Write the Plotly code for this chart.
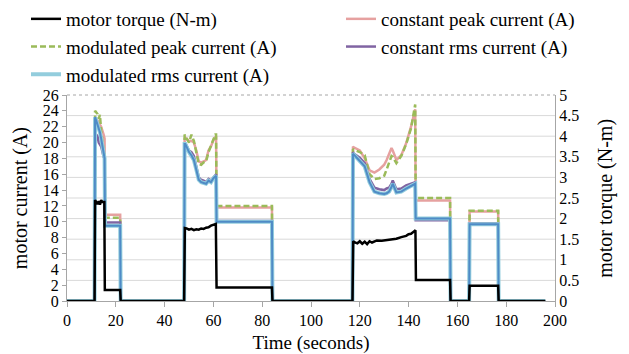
import plotly.graph_objects as go

# ---------------- data ----------------
# time base shared by the four current series (seconds)
t_cur = [0, 11.3, 11.5, 12.5, 13, 13.5, 14, 15, 15.4, 15.6, 21.8, 22,
         48, 48.2, 48.5, 50, 51, 52, 53, 54, 55, 56, 57, 58, 59, 60, 60.8, 61.1, 61.3, 84, 84.2,
         117, 117.2, 117.5, 120, 122, 124, 126, 128, 130, 131, 132, 133, 133.5, 135, 137, 139, 141,
         142.5, 142.7, 142.9, 157, 157.2, 164.8, 165, 176.7, 176.9, 196]

const_peak = [0, 0, 23.0, 22.8, 22.5, 22.3, 22.0, 21.0, 20.5, 10.9, 10.9, 0,
              0, 20.5, 20.6, 20.2, 20.2, 20.0, 19.0, 17.6, 17.5, 17.6, 17.8, 19.0, 19.5, 20.3, 20.8, 20.8, 11.8, 11.8, 0,
              0, 19.5, 19.4, 19.0, 18.0, 16.5, 16.2, 16.6, 17.2, 17.8, 18.6, 19.3, 19.0, 17.8, 18.4, 19.9, 22.0,
              24.0, 24.2, 12.7, 12.7, 0, 0, 11.3, 11.3, 0, 0]

mod_peak = [0, 0, 24.0, 23.6, 23.0, 23.5, 21.5, 19.0, 18.8, 10.5, 10.5, 0,
            0, 21.0, 20.8, 20.0, 21.0, 20.2, 18.7, 17.3, 17.2, 17.5, 17.6, 18.8, 19.6, 20.5, 21.0, 21.0, 12.0, 12.0, 0,
            0, 19.2, 19.1, 18.8, 18.4, 16.0, 15.4, 15.5, 15.8, 16.6, 17.5, 18.3, 18.2, 17.4, 18.3, 19.8, 21.8,
            24.8, 24.8, 13.0, 13.0, 0, 0, 11.4, 11.4, 0, 0]

const_rms = [0, 0, 21.2, 20.8, 20.0, 19.8, 19.5, 18.2, 18.0, 9.9, 9.9, 0,
             0, 20.0, 19.9, 19.0, 18.8, 18.3, 17.0, 15.6, 15.3, 15.2, 15.0, 15.4, 15.2, 15.6, 16.0, 16.0, 10.1, 10.1, 0,
             0, 18.8, 18.6, 18.1, 17.4, 15.4, 14.3, 14.1, 14.0, 14.2, 14.3, 14.8, 15.2, 14.1, 14.2, 14.6, 14.8,
             15.0, 15.0, 10.2, 10.2, 0, 0, 9.8, 9.8, 0, 0]

mod_rms = [0, 0, 23.2, 22.3, 21.8, 21.3, 20.5, 18.5, 18.0, 9.5, 9.5, 0,
           0, 19.8, 19.8, 18.8, 18.4, 17.8, 16.6, 15.3, 15.0, 14.9, 14.8, 15.2, 15.0, 15.5, 15.8, 15.8, 10.0, 10.0, 0,
           0, 18.6, 18.5, 17.8, 17.0, 15.0, 13.8, 13.6, 13.5, 13.6, 13.8, 14.4, 14.8, 13.7, 13.8, 14.2, 14.5,
           14.8, 14.8, 10.4, 10.4, 0, 0, 9.7, 9.7, 0, 0]

# motor torque (N-m), right axis
t_torque = [0, 11.3, 11.5, 12, 12.5, 13, 13.5, 14, 14.5, 15.3, 15.5, 21.8, 22,
            48, 48.3, 49, 50, 51, 52, 53, 54, 55, 56, 57, 58, 59, 60, 61.0, 61.3, 84, 84.2,
            117, 117.3, 118, 119, 120, 121, 122, 123, 124, 125, 127, 129, 131, 133, 135, 137, 139, 140, 141,
            142.5, 142.8, 143, 157, 157.2, 164.8, 165, 176.7, 176.9, 196]
torque = [0, 0, 2.45, 2.40, 2.35, 2.42, 2.34, 2.45, 2.40, 2.40, 0.27, 0.27, 0,
          0, 1.77, 1.76, 1.73, 1.75, 1.72, 1.74, 1.73, 1.76, 1.75, 1.78, 1.79, 1.83, 1.85, 1.87, 0.33, 0.33, 0,
          0, 1.45, 1.42, 1.40, 1.45, 1.39, 1.44, 1.38, 1.45, 1.42, 1.47, 1.46, 1.48, 1.49, 1.51, 1.55, 1.58, 1.62, 1.63,
          1.70, 1.72, 0.51, 0.51, 0, 0, 0.37, 0.37, 0, 0]

x_ticks = [0, 20, 40, 60, 80, 100, 120, 140, 160, 180, 200]
y_ticks = [0, 2, 4, 6, 8, 10, 12, 14, 16, 18, 20, 22, 24, 26]
y2_ticks = [0, 0.5, 1, 1.5, 2, 2.5, 3, 3.5, 4, 4.5, 5]
y2_labels = ["0", "0.5", "1", "1.5", "2", "2.5", "3", "3.5", "4", "4.5", "5"]

y_title = "motor current (A)"
y2_title = "motor torque (N-m)"
x_title = "Time (seconds)"

# ---------------- figure ----------------
FONT = "Liberation Serif"
fig = go.Figure()

fig.add_trace(go.Scatter(x=t_torque, y=torque, yaxis="y2", mode="lines", legend="legend",
                         name="motor torque (N-m)", line=dict(color="#000000", width=2.5)))
fig.add_trace(go.Scatter(x=t_cur, y=const_peak, mode="lines", legend="legend2",
                         name="constant peak current (A)", line=dict(color="#E6A1A0", width=2.5)))
fig.add_trace(go.Scatter(x=t_cur, y=mod_peak, mode="lines", legend="legend",
                         name="modulated peak current (A)",
                         line=dict(color="#9BBB59", width=2.5, dash="6px,3px")))
fig.add_trace(go.Scatter(x=t_cur, y=const_rms, mode="lines", legend="legend2",
                         name="constant rms current (A)", line=dict(color="#8064A2", width=2.5)))
fig.add_trace(go.Scatter(x=t_cur, y=mod_rms, mode="lines", legend="legend",
                         name="modulated rms current (A)", line=dict(color="#93CDDD", width=4)))
fig.add_trace(go.Scatter(x=t_cur, y=mod_rms, mode="lines", showlegend=False, hoverinfo="skip",
                         line=dict(color="#4F8BC6", width=2)))

shapes = []
for v in y2_ticks[1:-1]:
    shapes.append(dict(type="line", xref="paper", x0=0, x1=1, yref="y2", y0=v, y1=v,
                       line=dict(color="#D9D9D9", width=1), layer="below"))
shapes.append(dict(type="line", xref="paper", x0=0, x1=1, yref="paper", y0=1, y1=1,
                   line=dict(color="#A6A6A6", width=1, dash="dot")))

leg_common = dict(orientation="v", xref="container", yref="container",
                  xanchor="left", yanchor="top", tracegroupgap=0,
                  font=dict(family=FONT, size=19, color="#000000"),
                  bgcolor="rgba(0,0,0,0)")

annotations = [
    dict(text=y_title, xref="paper", yref="paper", x=-0.096, y=0.5, showarrow=False,
         textangle=-90, xanchor="center", yanchor="middle", font=dict(family=FONT, size=20)),
    dict(text=y2_title, xref="paper", yref="paper", x=1.102, y=0.5, showarrow=False,
         textangle=-90, xanchor="center", yanchor="middle", font=dict(family=FONT, size=20)),
]

fig.update_layout(
    width=629, height=354,
    margin=dict(l=67, r=74, t=95, b=53, autoexpand=False),
    paper_bgcolor="white", plot_bgcolor="white",
    font=dict(family=FONT, size=15, color="#000000"),
    shapes=shapes,
    annotations=annotations,
    showlegend=True,
    legend=dict(x=26 / 629, y=1.0, **leg_common),
    legend2=dict(x=341 / 629, y=1.0, **leg_common),
    xaxis=dict(range=[0, 200], tickvals=x_ticks, showgrid=False, zeroline=False,
               showline=True, linecolor="#A6A6A6", linewidth=1,
               ticks="outside", ticklen=5, tickcolor="#A6A6A6",
               tickfont=dict(family=FONT, size=16), automargin=False,
               title=dict(text=x_title, font=dict(family=FONT, size=19))),
    yaxis=dict(range=[0, 26], tickvals=y_ticks, showgrid=False, zeroline=False,
               showline=True, linecolor="#A6A6A6", linewidth=1,
               ticks="outside", ticklen=4, tickcolor="#A6A6A6",
               tickfont=dict(family=FONT, size=16), automargin=False),
    yaxis2=dict(range=[0, 5], tickvals=y2_ticks, ticktext=y2_labels, overlaying="y", side="right",
                showgrid=False, zeroline=False,
                showline=True, linecolor="#A6A6A6", linewidth=1, ticks="",
                tickfont=dict(family=FONT, size=16), automargin=False),
)

fig.write_html("out.html")
